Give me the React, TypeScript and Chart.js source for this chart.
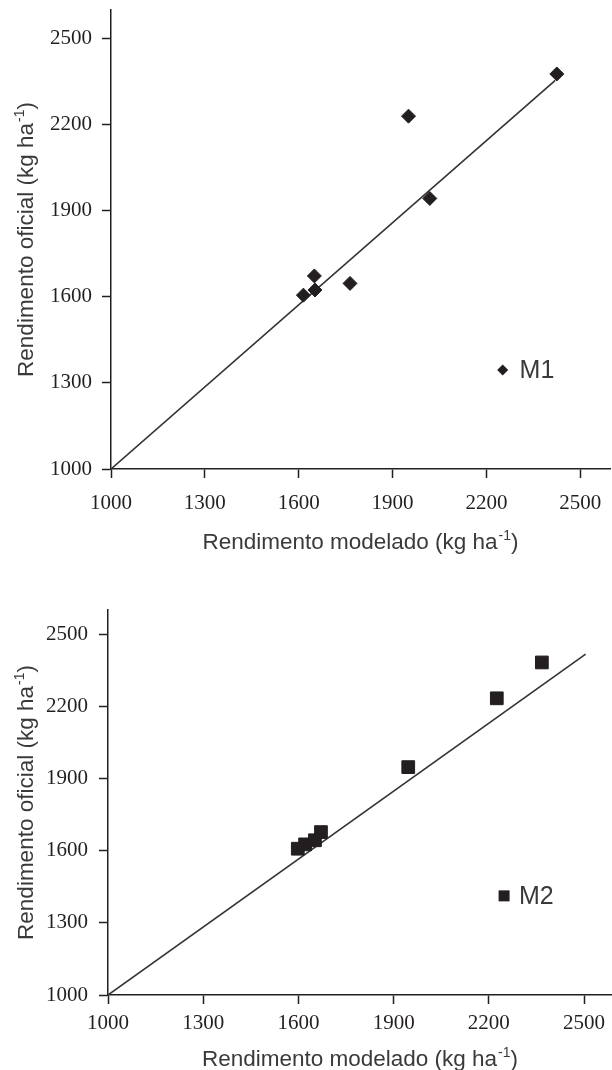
import React, { useEffect, useRef } from 'react';
import { Chart, registerables } from 'chart.js';

Chart.register(...registerables);

// ---- data ----
const axisTicks = [1000, 1300, 1600, 1900, 2200, 2500];

const m1Modelado = [2425, 1951, 2019, 1650, 1764, 1652, 1615];
const m1Oficial = [2377, 2230, 1943, 1673, 1647, 1624, 1606];
const m1LineX = [1000, 2420];
const m1LineY = [1000, 2355];

const m2Modelado = [2367, 2225, 1946, 1671, 1652, 1621, 1598];
const m2Oficial = [2382, 2233, 1947, 1677, 1643, 1626, 1608];
const m2LineX = [1000, 2505];
const m2LineY = [1000, 2417];

const xTitleMain = 'Rendimento modelado (kg ha';
const yTitleMain = 'Rendimento oficial (kg ha';
const titleSup = '-1';
const titleTail = ')';

const INK = '#231f20';
const TITLE_INK = '#3a3a3a';
const SANS = '"Liberation Sans", Arial, sans-serif';
const SERIF = '"Liberation Serif", "Times New Roman", serif';

function drawSupTitle(ctx: CanvasRenderingContext2D, cx: number, y: number, main: string) {
  const f = `22.5px ${SANS}`;
  const fs = `14px ${SANS}`;
  ctx.font = f;
  const w1 = ctx.measureText(main).width;
  const w3 = ctx.measureText(titleTail).width;
  ctx.font = fs;
  const w2 = ctx.measureText(titleSup).width + 1;
  const total = w1 + w2 + w3;
  const x0 = cx - total / 2;
  ctx.textAlign = 'left';
  ctx.textBaseline = 'alphabetic';
  ctx.font = f;
  ctx.fillText(main, x0, y);
  ctx.font = fs;
  ctx.fillText(titleSup, x0 + w1 + 1, y - 9);
  ctx.font = f;
  ctx.fillText(titleTail, x0 + w1 + w2, y);
}

type ChartSpec = {
  xs: number[];
  ys: number[];
  lx: number[];
  ly: number[];
  pointStyle: 'rectRot' | 'rect';
  radius: number;
  legend: string;
  legendPos: { mx: number; my: number; tx: number };
  xMax: number;
  padTop: number;
  padRight: number;
  yWidth: number;
  xHeight: number;
  xTickPad: number;
  yTickPad: number;
  xTitleOffset: number;
  yTitleX: number;
};

function makeConfig(s: ChartSpec): any {
  const annot = {
    id: 'annot',
    afterDraw(chart: any) {
      const { ctx, chartArea, scales } = chart;
      ctx.save();
      ctx.fillStyle = TITLE_INK;
      // x title
      drawSupTitle(ctx, (chartArea.left + chartArea.right) / 2, chartArea.bottom + s.xTitleOffset, xTitleMain);
      // y title
      ctx.save();
      ctx.translate(s.yTitleX, (chartArea.top + chartArea.bottom) / 2);
      ctx.rotate(-Math.PI / 2);
      drawSupTitle(ctx, 0, 0, yTitleMain);
      ctx.restore();
      // legend
      const mx = scales.x.getPixelForValue(s.legendPos.mx);
      const my = scales.y.getPixelForValue(s.legendPos.my);
      const tx = scales.x.getPixelForValue(s.legendPos.tx);
      ctx.fillStyle = INK;
      ctx.beginPath();
      if (s.pointStyle === 'rectRot') {
        const r = 5.5;
        ctx.moveTo(mx, my - r);
        ctx.lineTo(mx + r, my);
        ctx.lineTo(mx, my + r);
        ctx.lineTo(mx - r, my);
        ctx.closePath();
      } else {
        const h = 5.5;
        ctx.rect(mx - h, my - h, 2 * h, 2 * h);
      }
      ctx.fill();
      ctx.fillStyle = TITLE_INK;
      ctx.font = `25px ${SANS}`;
      ctx.textAlign = 'left';
      ctx.textBaseline = 'middle';
      ctx.fillText(s.legend, tx, my + 1);
      ctx.restore();
    },
  };

  const zeroPad = (sc: any) => {
    sc.paddingTop = 0;
    sc.paddingBottom = 0;
    sc.paddingLeft = 0;
    sc.paddingRight = 0;
  };

  const pts = s.xs.map((x, i) => ({ x, y: s.ys[i] }));
  const line = s.lx.map((x, i) => ({ x, y: s.ly[i] }));

  return {
    type: 'scatter',
    data: {
      datasets: [
        {
          type: 'line',
          data: line,
          borderColor: '#333333',
          borderWidth: 1.6,
          pointRadius: 0,
          fill: false,
          showLine: true,
          order: 2,
        },
        {
          data: pts,
          pointStyle: s.pointStyle,
          pointRadius: s.radius,
          backgroundColor: INK,
          borderColor: INK,
          borderWidth: 1,
          order: 1,
        },
      ],
    },
    options: {
      animation: false,
      responsive: false,
      devicePixelRatio: 1,
      layout: { autoPadding: false, padding: { top: s.padTop, right: s.padRight, left: 0, bottom: 0 } },
      plugins: { legend: { display: false }, tooltip: { enabled: false }, title: { display: false } },
      scales: {
        x: {
          type: 'linear',
          min: 1000,
          max: s.xMax,
          afterBuildTicks: (sc: any) => {
            sc.ticks = axisTicks.map((v) => ({ value: v }));
          },
          afterFit: (sc: any) => {
            sc.height = s.xHeight;
            zeroPad(sc);
          },
          border: { display: true, color: INK, width: 1.5 },
          grid: { display: true, drawOnChartArea: false, drawTicks: true, tickLength: 9, tickWidth: 1.5, tickColor: INK },
          ticks: {
            autoSkip: false,
            maxRotation: 0,
            padding: s.xTickPad,
            color: INK,
            font: { family: SERIF, size: 21 },
            callback: (v: any) => String(v),
          },
        },
        y: {
          type: 'linear',
          min: 1000,
          max: 2600,
          afterBuildTicks: (sc: any) => {
            sc.ticks = axisTicks.map((v) => ({ value: v }));
          },
          afterFit: (sc: any) => {
            sc.width = s.yWidth;
            zeroPad(sc);
          },
          border: { display: true, color: INK, width: 1.5 },
          grid: { display: true, drawOnChartArea: false, drawTicks: true, tickLength: 9, tickWidth: 1.5, tickColor: INK },
          ticks: {
            autoSkip: false,
            padding: s.yTickPad,
            color: INK,
            font: { family: SERIF, size: 21 },
            callback: (v: any) => String(v),
          },
        },
      },
    },
    plugins: [annot],
  };
}

const topSpec: ChartSpec = {
  xs: m1Modelado,
  ys: m1Oficial,
  lx: m1LineX,
  ly: m1LineY,
  pointStyle: 'rectRot',
  radius: 7,
  legend: 'M1',
  legendPos: { mx: 2252, my: 1345, tx: 2306 },
  xMax: 2595,
  padTop: 10,
  padRight: 2,
  yWidth: 111,
  xHeight: 91,
  xTickPad: 13,
  yTickPad: 10,
  xTitleOffset: 80,
  yTitleX: 33,
};

const bottomSpec: ChartSpec = {
  xs: m2Modelado,
  ys: m2Oficial,
  lx: m2LineX,
  ly: m2LineY,
  pointStyle: 'rect',
  radius: 9,
  legend: 'M2',
  legendPos: { mx: 2248, my: 1412, tx: 2295 },
  xMax: 2588,
  padTop: 50,
  padRight: 0,
  yWidth: 108,
  xHeight: 75,
  xTickPad: 7,
  yTickPad: 11,
  xTitleOffset: 71,
  yTitleX: 33,
};

function ChartCanvas({ spec, top, height }: { spec: ChartSpec; top: number; height: number }) {
  const ref = useRef<HTMLCanvasElement | null>(null);
  useEffect(() => {
    if (!ref.current) return;
    const chart = new Chart(ref.current, makeConfig(spec));
    return () => chart.destroy();
  }, [spec]);
  return (
    <canvas
      ref={ref}
      width={612}
      height={height}
      style={{ position: 'absolute', left: 0, top, width: 612, height, display: 'block' }}
    />
  );
}

export default function App() {
  return (
    <div style={{ position: 'absolute', left: 0, top: 0, width: 612, height: 1070, background: '#ffffff' }}>
      <ChartCanvas spec={topSpec} top={0} height={560} />
      <ChartCanvas spec={bottomSpec} top={560} height={510} />
    </div>
  );
}
